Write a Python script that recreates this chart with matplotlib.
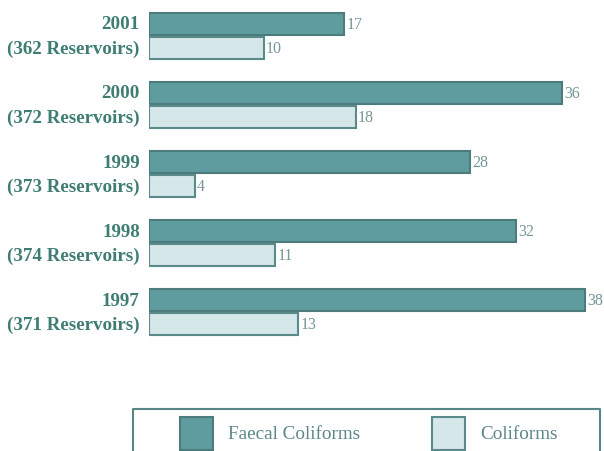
import matplotlib.pyplot as plt
from matplotlib.patches import Rectangle
from matplotlib.lines import Line2D
import numpy as np

years = ['2001', '2000', '1999', '1998', '1997']
reservoirs = [362, 372, 373, 374, 371]
faecal = [17, 36, 28, 32, 38]
coliforms = [10, 18, 4, 11, 13]

dark_fill = '#5f9ca0'
dark_edge = '#4b7b7b'
light_fill = '#d6e7ea'
light_edge = '#5b8a8a'
label_col = '#3f7d73'
value_col = '#739797'

plt.rcParams['font.family'] = ['Liberation Serif', 'DejaVu Serif']

W, H = 604, 452
fig = plt.figure(figsize=(W / 100, H / 100), dpi=100)

# axes placed in pixel terms: x=149 is value 0, 11.47 px per unit
px_unit = 436 / 38
ax_left = 149 / W
ax_w = 40 * px_unit / W
ax = fig.add_axes([ax_left, 1 - 380 / H, ax_w, 380 / H])
ax.set_xlim(0, 40)
ax.set_ylim(4.97, -0.536)
ax.axis('off')

y = np.arange(len(years))
h = 0.32
off = 0.174
ax.barh(y - off, faecal, height=h, color=dark_fill, edgecolor=dark_edge, linewidth=1.5)
ax.barh(y + off, coliforms, height=h, color=light_fill, edgecolor=light_edge, linewidth=1.5)

for i in range(len(years)):
    ax.text(faecal[i] + 0.2, y[i] - off, str(faecal[i]), va='center', ha='left',
            fontsize=11.5, color=value_col)
    ax.text(coliforms[i] + 0.2, y[i] + off, str(coliforms[i]), va='center', ha='left',
            fontsize=11.5, color=value_col)
    ax.text(-0.8, y[i] - off, years[i], va='center', ha='right', fontsize=13.7,
            fontweight='bold', color=label_col)
    ax.text(-0.8, y[i] + off, '(%d Reservoirs)' % reservoirs[i], va='center', ha='right',
            fontsize=13.7, fontweight='bold', color=label_col)

# legend box, open at the bottom edge
def fx(px):
    return px / W

def fy(py):
    return 1 - py / H

fig.add_artist(Line2D([fx(133), fx(133), fx(600), fx(600)],
                      [fy(453), fy(410), fy(410), fy(453)],
                      color='#5a8585', linewidth=1.5))
fig.add_artist(Rectangle((fx(180), fy(451)), 33 / W, 33 / H, facecolor=dark_fill,
                         edgecolor=dark_edge, linewidth=1.5))
fig.text(fx(228), fy(435), 'Faecal Coliforms', va='center', ha='left', fontsize=13.8,
         color='#5d8787')
fig.text(fx(480), fy(435), 'Coliforms', va='center', ha='left', fontsize=13.8,
         color='#5d8787')
fig.add_artist(Rectangle((fx(432), fy(451)), 33 / W, 33 / H, facecolor=light_fill,
                         edgecolor=light_edge, linewidth=1.5))

fig.savefig('out.png', dpi=100)
